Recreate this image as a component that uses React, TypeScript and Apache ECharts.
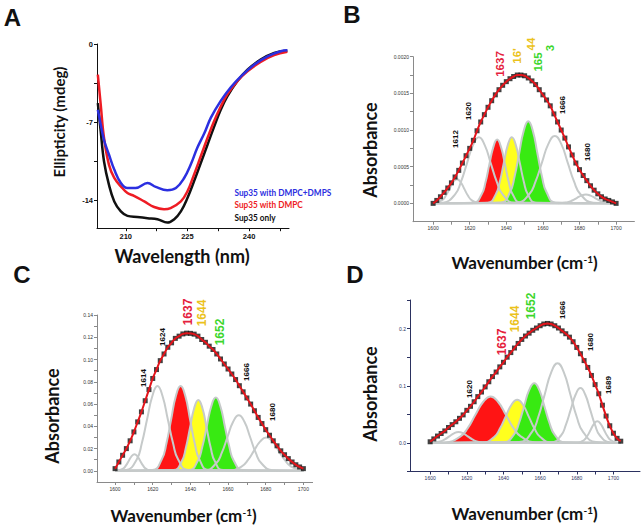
import { useEffect, useRef } from "react";
import * as echarts from "echarts";

// ---------- Panel A: CD spectra ----------
const cdLegend = ["Sup35 with DMPC+DMPS", "Sup35 with DMPC", "Sup35 only"];
const cdXTickLabels = [210, 225, 240];
const cdXTicks = [210, 217.5, 225, 232.5, 240, 247.5];
const cdYTickLabels = [-14, -7, 0];
const cdYTicks = [-14, -10.5, -7, -3.5, 0];
const cdSup35Only = [[203.2,-5.3],[203.9,-7.8],[204.7,-10.5],[205.9,-12.6],[207.2,-14.1],[208.8,-15.0],[210.4,-15.4],[212.8,-15.5],[215.3,-15.6],[217.7,-15.7],[220.1,-16.0],[221.8,-15.7],[223.4,-15.0],[225,-13.8],[226.6,-12.3],[228.2,-10.7],[229.9,-9.0],[231.5,-7.4],[233.1,-5.9],[234.7,-4.7],[237.2,-3.3],[239.6,-2.3],[242.8,-1.4],[246.1,-0.8],[249.3,-0.6]];
const cdDmpc = [[203.2,-2.75],[203.9,-5.4],[204.7,-8.4],[205.9,-10.8],[207.2,-12.0],[208.8,-12.75],[210.4,-13.35],[212,-13.6],[214.5,-14.1],[216.9,-14.6],[219.3,-14.8],[220.9,-14.7],[223.4,-14.1],[225,-13.2],[226.6,-11.7],[228.2,-10.1],[229.9,-8.4],[231.5,-6.9],[233.1,-5.6],[234.7,-4.5],[237.2,-3.3],[239.6,-2.45],[242.8,-1.6],[246.1,-1.0],[249.3,-0.7]];
const cdDmpcDmps = [[203.2,-5.9],[203.9,-7.2],[204.7,-8.6],[205.9,-9.9],[207.2,-11.25],[208.8,-12.45],[210.4,-12.9],[212.4,-12.9],[215.3,-12.45],[217.3,-12.8],[220.1,-13.1],[222.2,-12.9],[224.2,-12.0],[225.8,-10.8],[227.4,-9.3],[229.1,-8.0],[230.7,-6.6],[233.1,-5.1],[235.5,-3.9],[238,-2.9],[241.2,-1.85],[244.5,-1.1],[247.7,-0.65],[249.3,-0.57]];

// ---------- FTIR shared ticks ----------
const ftirXTickLabels = [1600, 1620, 1640, 1660, 1680, 1700];
const ftirXTicks = [1600, 1610, 1620, 1630, 1640, 1650, 1660, 1670, 1680, 1690, 1700];
const ftirX = [1600,1602,1604,1606,1608,1610,1612,1614,1616,1618,1620,1622,1624,1626,1628,1630,1632,1634,1636,1638,1640,1642,1644,1646,1648,1650,1652,1654,1656,1658,1660,1662,1664,1666,1668,1670,1672,1674,1676,1678,1680,1682,1684,1686,1688,1690,1692,1694,1696,1698,1700];
const ftirXD = [1600,1602,1604,1606,1608,1610,1612,1614,1616,1618,1620,1622,1624,1626,1628,1630,1632,1634,1636,1638,1640,1642,1644,1646,1648,1650,1652,1654,1656,1658,1660,1662,1664,1666,1668,1670,1672,1674,1676,1678,1680,1682,1684,1686,1688,1690,1692,1694,1696,1698,1700,1702,1704];

// ---------- Panel B ----------
const bYTickLabels = [0, 0.0005, 0.001, 0.0015, 0.002];
const bYTicks = [0, 0.00025, 0.0005, 0.00075, 0.001, 0.00125, 0.0015, 0.00175, 0.002];
const bAbsorbance = [0,0.00004,0.00009,0.00015,0.00021,0.00028,0.00036,0.00045,0.00055,0.00065,0.00075,0.00086,0.00099,0.00111,0.00121,0.00131,0.0014,0.00148,0.00155,0.00161,0.00166,0.0017,0.00173,0.00175,0.00175,0.00174,0.00171,0.00167,0.00162,0.00155,0.00148,0.00141,0.00133,0.00122,0.00111,0.001,0.00089,0.00077,0.00066,0.00055,0.00046,0.00038,0.00031,0.00024,0.00018,0.00013,0.00009,0.00006,0.00004,0.00002,0];
const bComp1612 = [[1600,0],[1605,0.000045],[1607,0.000107],[1609,0.0002],[1611,0.000291],[1613,0.00033],[1615,0.000291],[1617,0.0002],[1619,0.000107],[1621,0.000045],[1625,0.000004],[1700,0]];
const bComp1620 = [[1600,0],[1605.5,0.00001],[1612,0.000122],[1615.2,0.000293],[1618.5,0.000546],[1621.8,0.000794],[1625,0.0009],[1628.2,0.000794],[1631.5,0.000546],[1634.8,0.000293],[1638,0.000122],[1644.5,0.00001],[1700,0]];
const bComp1637 = [[1600,0],[1622.1,0.00001],[1626.4,0.000117],[1628.6,0.000283],[1630.7,0.000528],[1632.9,0.000767],[1635,0.00087],[1637.1,0.000767],[1639.3,0.000528],[1641.4,0.000283],[1643.6,0.000117],[1647.9,0.00001],[1700,0]];
const bComp1644 = [[1600,0],[1629.8,0.00001],[1634.2,0.000122],[1636.4,0.000293],[1638.6,0.000546],[1640.8,0.000794],[1643,0.0009],[1645.2,0.000794],[1647.4,0.000546],[1649.6,0.000293],[1651.8,0.000122],[1656.2,0.00001],[1700,0]];
const bComp1653 = [[1600,0],[1637,0.000012],[1642,0.000151],[1644.5,0.000364],[1647,0.00068],[1649.5,0.000988],[1652,0.00112],[1654.5,0.000988],[1657,0.00068],[1659.5,0.000364],[1662,0.000151],[1667,0.000012],[1700,0]];
const bComp1666 = [[1600,0],[1645.5,0.00001],[1652.5,0.000124],[1656,0.000299],[1659.5,0.000558],[1663,0.000811],[1666.5,0.00092],[1670,0.000811],[1673.5,0.000558],[1677,0.000299],[1680.5,0.000124],[1687.5,0.00001],[1700,0]];
const bComp1680 = [[1600,0],[1668.5,0.000001],[1673.5,0.000016],[1676,0.000039],[1678.5,0.000073],[1681,0.000106],[1683.5,0.00012],[1686,0.000106],[1688.5,0.000073],[1691,0.000039],[1693.5,0.000016],[1698.5,0.000001],[1700,0]];

// ---------- Panel C ----------
const cYTickLabels = [0, 0.02, 0.04, 0.06, 0.08, 0.1, 0.12, 0.14];
const cYTicks = [0, 0.01, 0.02, 0.03, 0.04, 0.05, 0.06, 0.07, 0.08, 0.09, 0.1, 0.11, 0.12, 0.13, 0.14];
const cAbsorbance = [0.002,0.008,0.014,0.02,0.027,0.035,0.044,0.053,0.063,0.073,0.083,0.091,0.099,0.105,0.111,0.115,0.119,0.121,0.123,0.1237,0.1235,0.1228,0.121,0.118,0.1155,0.112,0.109,0.105,0.1005,0.096,0.0915,0.087,0.082,0.0765,0.071,0.0655,0.06,0.054,0.048,0.0425,0.037,0.032,0.027,0.0225,0.018,0.0145,0.011,0.008,0.0055,0.0035,0.002];
const cComp1614 = [[1600,0],[1601.3,0.0002],[1604.3,0.002],[1605.8,0.0049],[1607.3,0.0091],[1608.8,0.0132],[1610.3,0.015],[1611.8,0.0132],[1613.3,0.0091],[1614.8,0.0049],[1616.3,0.002],[1619.3,0.0002],[1700,0]];
const cComp1624 = [[1600,0],[1606,0.0008],[1611.5,0.0103],[1614.2,0.0248],[1617,0.0463],[1619.8,0.0672],[1622.5,0.0762],[1625.2,0.0672],[1628,0.0463],[1630.8,0.0248],[1633.5,0.0103],[1639,0.0008],[1700,0]];
const cComp1637 = [[1600,0],[1619.8,0.0008],[1624.8,0.0103],[1627.3,0.0248],[1629.8,0.0463],[1632.3,0.0672],[1634.8,0.0762],[1637.3,0.0672],[1639.8,0.0463],[1642.3,0.0248],[1644.8,0.0103],[1649.8,0.0008],[1700,0]];
const cComp1644 = [[1600,0],[1631,0.0007],[1635.4,0.0086],[1637.6,0.0207],[1639.8,0.0387],[1642,0.0562],[1644.2,0.0637],[1646.4,0.0562],[1648.6,0.0387],[1650.8,0.0207],[1653,0.0086],[1657.4,0.0007],[1700,0]];
const cComp1652 = [[1600,0],[1639.1,0.0007],[1643.9,0.0089],[1646.3,0.0214],[1648.7,0.0399],[1651.1,0.058],[1653.5,0.0658],[1655.9,0.058],[1658.3,0.0399],[1660.7,0.0214],[1663.1,0.0089],[1667.9,0.0007],[1700,0]];
const cComp1666 = [[1600,0],[1647.7,0.0006],[1653.7,0.0068],[1656.7,0.0163],[1659.7,0.0304],[1662.7,0.0441],[1665.7,0.05],[1668.7,0.0441],[1671.7,0.0304],[1674.7,0.0163],[1677.7,0.0068],[1683.7,0.0006],[1700,0]];
const cComp1680 = [[1600,0],[1660.8,0.0003],[1667.3,0.0041],[1670.6,0.0098],[1673.8,0.0182],[1677.1,0.0265],[1680.3,0.03],[1683.6,0.0265],[1686.8,0.0182],[1690.1,0.0098],[1693.3,0.0041],[1699.8,0.0003],[1700,0]];

// ---------- Panel D ----------
const dYTickLabels = [0, 0.1, 0.2];
const dYTicks = [-0.05, 0, 0.05, 0.1, 0.15, 0.2, 0.25];
const dAbsorbance = [0.002,0.007,0.012,0.0165,0.021,0.027,0.032,0.037,0.043,0.049,0.057,0.064,0.072,0.081,0.089,0.098,0.107,0.116,0.124,0.133,0.141,0.15,0.158,0.166,0.174,0.181,0.187,0.192,0.197,0.201,0.205,0.208,0.209,0.208,0.205,0.201,0.196,0.191,0.185,0.177,0.167,0.156,0.144,0.132,0.118,0.102,0.086,0.066,0.047,0.03,0.017,0.008,0.003];
const dComp1620 = [[1600,0],[1600.5,0.0002],[1605.5,0.0026],[1608,0.0062],[1610.5,0.0115],[1613,0.0168],[1615.5,0.019],[1618,0.0168],[1620.5,0.0115],[1623,0.0062],[1625.5,0.0026],[1630.5,0.0002],[1704,0]];
const dComp1637 = [[1600,0],[1608.1,0.0009],[1616.4,0.011],[1620.6,0.0264],[1624.7,0.0493],[1628.9,0.0716],[1633,0.0812],[1637.1,0.0716],[1641.3,0.0493],[1645.4,0.0264],[1649.6,0.011],[1657.9,0.0009],[1704,0]];
const dComp1644 = [[1600,0],[1628.6,0.0008],[1634.9,0.0102],[1638,0.0246],[1641.2,0.046],[1644.4,0.0668],[1647.5,0.0757],[1650.6,0.0668],[1653.8,0.046],[1657,0.0246],[1660.1,0.0102],[1666.4,0.0008],[1704,0]];
const dComp1652 = [[1600,0],[1640,0.0011],[1645.6,0.0141],[1648.4,0.034],[1651.2,0.0634],[1654,0.0922],[1656.8,0.1045],[1659.6,0.0922],[1662.4,0.0634],[1665.2,0.034],[1668,0.0141],[1673.6,0.0011],[1704,0]];
const dComp1666 = [[1600,0],[1648.5,0.0015],[1655.5,0.0188],[1659,0.0453],[1662.5,0.0847],[1666,0.123],[1669.5,0.1395],[1673,0.123],[1676.5,0.0847],[1680,0.0453],[1683.5,0.0188],[1690.5,0.0015],[1704,0]];
const dComp1680 = [[1600,0],[1666.1,0.0011],[1671.4,0.013],[1674,0.0312],[1676.7,0.0583],[1679.4,0.0847],[1682,0.096],[1684.6,0.0847],[1687.3,0.0583],[1690,0.0312],[1692.6,0.013],[1697.9,0.0011],[1704,0]];
const dComp1689 = [[1600,0],[1680.4,0.0004],[1684,0.0051],[1685.8,0.0124],[1687.6,0.0231],[1689.4,0.0335],[1691.2,0.038],[1693,0.0335],[1694.8,0.0231],[1696.6,0.0124],[1698.4,0.0051],[1702,0.0004],[1704,0]];

// ---------- styling ----------
const FONT = "Lato";
const FILL_RED = "#ff1414";
const FILL_YELLOW = "#ffff1e";
const FILL_GREEN = "#38ea12";
const COMP_GRAY = "#c6caca";
const FIT_RED = "#e3141b";
const LBL_RED = "#e5203c";
const LBL_YELLOW = "#ebc21c";
const LBL_GREEN = "#3cd62c";

function valueAxis(gridIndex: number, min: number, max: number, ticks: number[], labels: number[], fmt: (v: number) => string, color: string, labelColor: string, fontSize: number, bold: boolean) {
  return {
    type: "value",
    gridIndex,
    min,
    max,
    axisLine: { show: true, onZero: false, lineStyle: { color, width: 1 } },
    axisTick: { show: true, customValues: ticks, length: 3, lineStyle: { color } },
    axisLabel: {
      customValues: labels,
      formatter: (v: number) => fmt(v),
      fontSize,
      color: labelColor,
      fontWeight: bold ? "bold" : "normal",
      fontFamily: "Liberation Sans",
      margin: 4,
    },
    splitLine: { show: false },
  };
}

function ftirSeries(idx: number, xs: number[], env: number[], comps: number[][][], fills: { i: number; c: string }[]) {
  const out: any[] = [];
  fills.forEach((f) => {
    out.push({
      type: "line", xAxisIndex: idx, yAxisIndex: idx, data: comps[f.i], smooth: 0.5, showSymbol: false, silent: true, z: 2,
      lineStyle: { width: 0, opacity: 0 }, areaStyle: { color: f.c, opacity: 1 },
    });
  });
  comps.forEach((c) => {
    out.push({
      type: "line", xAxisIndex: idx, yAxisIndex: idx, data: c, smooth: 0.5, showSymbol: false, silent: true, z: 3,
      lineStyle: { color: COMP_GRAY, width: 2 },
    });
  });
  const pts = xs.map((x, k) => [x, env[k]]);
  out.push({
    type: "scatter", xAxisIndex: idx, yAxisIndex: idx, data: pts, symbol: "rect", symbolSize: 5, silent: true, z: 4,
    itemStyle: { color: "#111" },
  });
  out.push({
    type: "line", xAxisIndex: idx, yAxisIndex: idx, data: pts, smooth: 0.5, showSymbol: false, silent: true, z: 5,
    lineStyle: { color: FIT_RED, width: 2 },
  });
  return out;
}

function txt(text: string, x: number, y: number, size: number, color: string, opts: any = {}) {
  return {
    type: "text",
    x,
    y,
    rotation: opts.rot ? Math.PI / 2 : 0,
    scaleX: opts.sx || 1,
    silent: true,
    z: 100,
    style: {
      text,
      fontSize: size,
      fontWeight: opts.weight || "normal",
      fontFamily: opts.family || FONT,
      fill: color,
      align: opts.align || "center",
      verticalAlign: "middle",
      rich: opts.rich,
    },
  };
}

const supRich = (size: number) => ({ sup: { fontSize: size, fontWeight: "bold", fontFamily: FONT, verticalAlign: "top", lineHeight: size } });
const LS = "Liberation Sans";

export default function App() {
  const ref = useRef<HTMLDivElement>(null);
  useEffect(() => {
    if (!ref.current) return;
    const chart = echarts.init(ref.current, null, { renderer: "svg" });
    const f0 = (v: number) => String(v);
    const f4 = (v: number) => v.toFixed(4);
    const f2 = (v: number) => v.toFixed(2);
    const f1 = (v: number) => v.toFixed(1);
    const option: any = {
      animation: false,
      backgroundColor: "#ffffff",
      grid: [
        { left: 97, top: 44, width: 192, height: 184.2 },
        { left: 413, top: 56.7, width: 221.4, height: 165 },
        { left: 97, top: 315, width: 215.6, height: 167 },
        { left: 410, top: 300, width: 230, height: 171.5 },
      ],
      xAxis: [
        valueAxis(0, 203, 249.7, cdXTicks, cdXTickLabels, f0, "#111", "#111", 7.5, true),
        valueAxis(1, 1589, 1710, ftirXTicks, ftirXTickLabels, f0, "#8a8a8a", "#333", 5, false),
        valueAxis(2, 1590.4, 1704.9, ftirXTicks, ftirXTickLabels, f0, "#8a8a8a", "#333", 5, false),
        valueAxis(3, 1589, 1714.5, ftirXTicks, ftirXTickLabels, f0, "#2b3160", "#2b3160", 5, false),
      ],
      yAxis: [
        valueAxis(0, -16.5, 0, cdYTicks, cdYTickLabels, f0, "#111", "#111", 7.5, true),
        valueAxis(1, -0.00025, 0.002, bYTicks, bYTickLabels, f4, "#8a8a8a", "#333", 5, false),
        valueAxis(2, -0.01, 0.14, cYTicks, cYTickLabels, f2, "#8a8a8a", "#333", 5, false),
        valueAxis(3, -0.05, 0.25, dYTicks, dYTickLabels, f1, "#2b3160", "#2b3160", 5, false),
      ],
      series: [
        { type: "line", xAxisIndex: 0, yAxisIndex: 0, data: cdSup35Only, smooth: 0.4, showSymbol: false, silent: true, lineStyle: { color: "#111111", width: 2.5 } },
        { type: "line", xAxisIndex: 0, yAxisIndex: 0, data: cdDmpc, smooth: 0.4, showSymbol: false, silent: true, lineStyle: { color: "#ee1c24", width: 2.5 } },
        { type: "line", xAxisIndex: 0, yAxisIndex: 0, data: cdDmpcDmps, smooth: 0.4, showSymbol: false, silent: true, lineStyle: { color: "#2b2fe0", width: 2.5 } },
        ...ftirSeries(1, ftirX, bAbsorbance, [bComp1612, bComp1620, bComp1637, bComp1644, bComp1653, bComp1666, bComp1680], [{ i: 2, c: FILL_RED }, { i: 3, c: FILL_YELLOW }, { i: 4, c: FILL_GREEN }]),
        ...ftirSeries(2, ftirX, cAbsorbance, [cComp1614, cComp1624, cComp1637, cComp1644, cComp1652, cComp1666, cComp1680], [{ i: 2, c: FILL_RED }, { i: 3, c: FILL_YELLOW }, { i: 4, c: FILL_GREEN }]),
        ...ftirSeries(3, ftirXD, dAbsorbance, [dComp1620, dComp1637, dComp1644, dComp1652, dComp1666, dComp1680, dComp1689], [{ i: 1, c: FILL_RED }, { i: 2, c: FILL_YELLOW }, { i: 3, c: FILL_GREEN }]),
      ],
      graphic: {
        elements: [
          // panel letters
          txt("A", 12.5, 17, 24, "#111", { weight: "bold", family: LS }),
          txt("B", 352, 14, 24, "#111", { weight: "bold", family: LS }),
          txt("C", 22, 274, 24, "#111", { weight: "bold", family: LS }),
          txt("D", 355, 274, 24, "#111", { weight: "bold", family: LS }),
          // panel A titles & legend
          txt("Ellipticity (mdeg)", 59, 122, 15, "#111", { weight: "bold", rot: true }),
          txt("Wavelength (nm)", 182, 256, 18, "#111", { weight: "bold" }),
          txt(cdLegend[0], 234.5, 192.5, 9.5, "#2b2fe0", { weight: "bold", align: "left", sx: 0.87 }),
          txt(cdLegend[1], 234.5, 204.5, 9.5, "#ee1c24", { weight: "bold", align: "left", sx: 0.87 }),
          txt(cdLegend[2], 234.5, 217.5, 9.5, "#111", { weight: "bold", align: "left", sx: 0.87 }),
          // panel B
          txt("Absorbance", 370, 150, 18, "#111", { weight: "bold", rot: true }),
          txt("Wavenumber (cm{sup|-1})", 524.5, 262, 17, "#111", { weight: "bold", rich: supRich(10) }),
          txt("1612", 455, 139, 8, "#111", { weight: "bold", rot: true, family: LS }),
          txt("1620", 468, 111, 8, "#111", { weight: "bold", rot: true, family: LS }),
          txt("1637", 500, 64, 11.5, LBL_RED, { weight: "bold", rot: true, family: LS }),
          txt("16'", 517, 56, 11.5, LBL_YELLOW, { weight: "bold", rot: true, family: LS }),
          txt("44", 531, 44, 11.5, LBL_YELLOW, { weight: "bold", rot: true, family: LS }),
          txt("165", 538, 62, 11.5, LBL_GREEN, { weight: "bold", rot: true, family: LS }),
          txt("3", 550, 48, 11.5, LBL_GREEN, { weight: "bold", rot: true, family: LS }),
          txt("1666", 562, 105, 8, "#111", { weight: "bold", rot: true, family: LS }),
          txt("1680", 587, 152, 8, "#111", { weight: "bold", rot: true, family: LS }),
          // panel C
          txt("Absorbance", 52, 416, 18, "#111", { weight: "bold", rot: true }),
          txt("Wavenumber (cm{sup|-1})", 183.5, 515, 17, "#111", { weight: "bold", rich: supRich(10) }),
          txt("1614", 143, 378, 8, "#111", { weight: "bold", rot: true, family: LS }),
          txt("1624", 162, 337, 8, "#111", { weight: "bold", rot: true, family: LS }),
          txt("1637", 188, 312, 12, LBL_RED, { weight: "bold", rot: true, family: LS }),
          txt("1644", 202, 313, 12, LBL_YELLOW, { weight: "bold", rot: true, family: LS }),
          txt("1652", 220, 332, 12, LBL_GREEN, { weight: "bold", rot: true, family: LS }),
          txt("1666", 246, 372, 8, "#111", { weight: "bold", rot: true, family: LS }),
          txt("1680", 272, 412, 8, "#111", { weight: "bold", rot: true, family: LS }),
          // panel D
          txt("Absorbance", 370, 394, 18, "#111", { weight: "bold", rot: true }),
          txt("Wavenumber (cm{sup|-1})", 524.5, 513, 17, "#111", { weight: "bold", rich: supRich(10) }),
          txt("1620", 469, 389, 8, "#111", { weight: "bold", rot: true, family: LS }),
          txt("1637", 502, 342, 12, LBL_RED, { weight: "bold", rot: true, family: LS }),
          txt("1644", 515, 319, 12, LBL_YELLOW, { weight: "bold", rot: true, family: LS }),
          txt("1652", 531, 306, 12, LBL_GREEN, { weight: "bold", rot: true, family: LS }),
          txt("1666", 562, 310, 8, "#111", { weight: "bold", rot: true, family: LS }),
          txt("1680", 590, 342, 8, "#111", { weight: "bold", rot: true, family: LS }),
          txt("1689", 608, 385, 8, "#111", { weight: "bold", rot: true, family: LS }),
        ],
      },
    };
    chart.setOption(option);
    return () => chart.dispose();
  }, []);
  return <div ref={ref} style={{ position: "fixed", left: 0, top: 0, width: 643, height: 527 }} />;
}
